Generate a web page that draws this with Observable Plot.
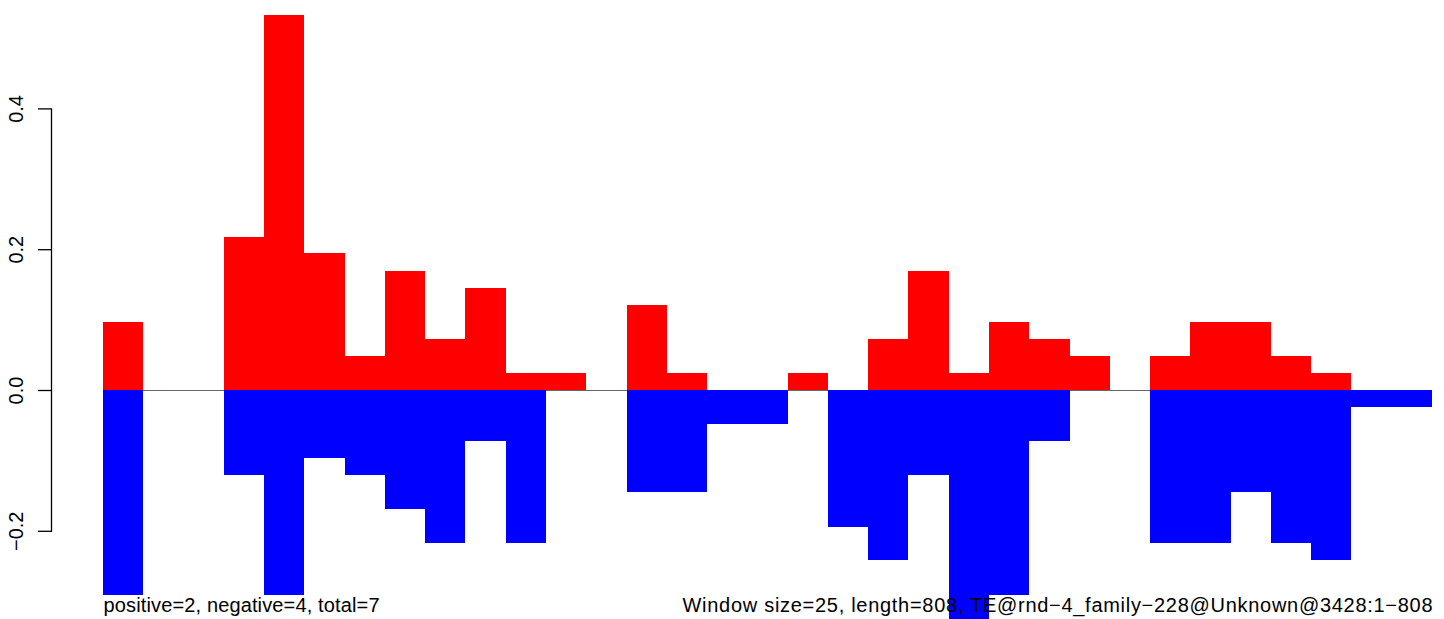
<!DOCTYPE html>
<html>
<head>
<meta charset="utf-8">
<script src="https://cdn.jsdelivr.net/npm/d3@7"></script>
<script src="https://cdn.jsdelivr.net/npm/@observablehq/plot@0.6"></script>
<style>
  html, body { margin: 0; padding: 0; background: #ffffff; }
  #chart svg { overflow: hidden; display: block; }
</style>
</head>
<body>
<div id="chart"></div>
<script>
// ---- data ----
const windowSize = 25;
const seqLength = 808;
const windowStart = [0, 25, 50, 75, 100, 125, 150, 175, 200, 225, 250, 275, 300, 325, 350, 375, 400,
  425, 450, 475, 500, 525, 550, 575, 600, 625, 650, 675, 700, 725, 750, 775, 800];
const positiveValues = [0.097, 0, 0, 0.218, 0.533, 0.194, 0.048, 0.169, 0.073, 0.145, 0.024, 0.024, 0,
  0.121, 0.024, 0, 0, 0.024, 0, 0.073, 0.169, 0.024, 0.097, 0.073, 0.048, 0, 0.048, 0.097, 0.097, 0.048, 0.024, 0, 0];
const negativeValues = [-0.291, 0, 0, -0.121, -0.291, -0.097, -0.121, -0.169, -0.218, -0.073, -0.218, 0, 0,
  -0.145, -0.145, -0.048, -0.048, 0, -0.194, -0.242, -0.121, -0.339, -0.291, -0.073, 0, 0, -0.218, -0.218, -0.145, -0.218, -0.242, -0.024, -0.024];
const yTicks = [-0.2, 0, 0.2, 0.4];
const footLeft = "positive=2, negative=4, total=7";
const footRight = "Window size=25, length=808, TE@rnd\u22124_family\u2212228@Unknown@3428:1\u2212808";

const bins = windowStart.map((s, i) => ({start: s, end: s + windowSize, pos: positiveValues[i], neg: negativeValues[i]}));
const xEnd = windowStart[windowStart.length - 1] + windowSize;

const chart = Plot.plot({
  width: 1444,
  height: 619,
  marginLeft: 51,
  marginRight: 12,
  marginTop: 108.4,
  marginBottom: 88.2,
  x: {domain: [0, xEnd], range: [103, 1432], axis: null},
  y: {domain: [-0.2, 0.4], axis: null},
  style: {fontFamily: "'Liberation Sans', Arial, Helvetica, sans-serif", fontSize: "20px", color: "#000", background: "#fff", overflow: "hidden"},
  marks: [
    Plot.ruleY([0], {x1: 0, x2: xEnd, stroke: "#666666", strokeWidth: 1}),
    Plot.rect(bins.filter(d => d.pos > 0), {x1: "start", x2: "end", y1: 0, y2: "pos", fill: "#ff0000", inset: 0, shapeRendering: "crispEdges"}),
    Plot.rect(bins.filter(d => d.neg < 0), {x1: "start", x2: "end", y1: 0, y2: "neg", fill: "#0000ff", inset: 0, shapeRendering: "crispEdges"}),
    Plot.frame({anchor: "left", stroke: "#000", strokeWidth: 1.3}),
    Plot.axisY(yTicks, {
      anchor: "left",
      tickSize: 13,
      tickPadding: 16,
      tickRotate: -90,
      strokeWidth: 1.3,
      tickFormat: d3.format(".1f"),
      fontSize: 20,
      fill: "#000",
      label: null
    }),
    Plot.text([footLeft], {x: 0, text: d => d, frameAnchor: "bottom", dy: 74, textAnchor: "start", lineAnchor: "middle", fontSize: 20, fill: "#000", className: "foot-left"}),
    Plot.text([footRight], {x: xEnd, text: d => d, frameAnchor: "bottom", dy: 74, textAnchor: "end", lineAnchor: "middle", fontSize: 20, fill: "#000", className: "foot-right"})
  ]
});
document.getElementById("chart").appendChild(chart);
// stretch the right-hand footer to the reference's wider glyph spacing
d3.select(chart).selectAll(".foot-right text").attr("textLength", 750).attr("lengthAdjust", "spacing");
d3.select(chart).selectAll(".foot-left text").attr("textLength", 276).attr("lengthAdjust", "spacing");
</script>
</body>
</html>
